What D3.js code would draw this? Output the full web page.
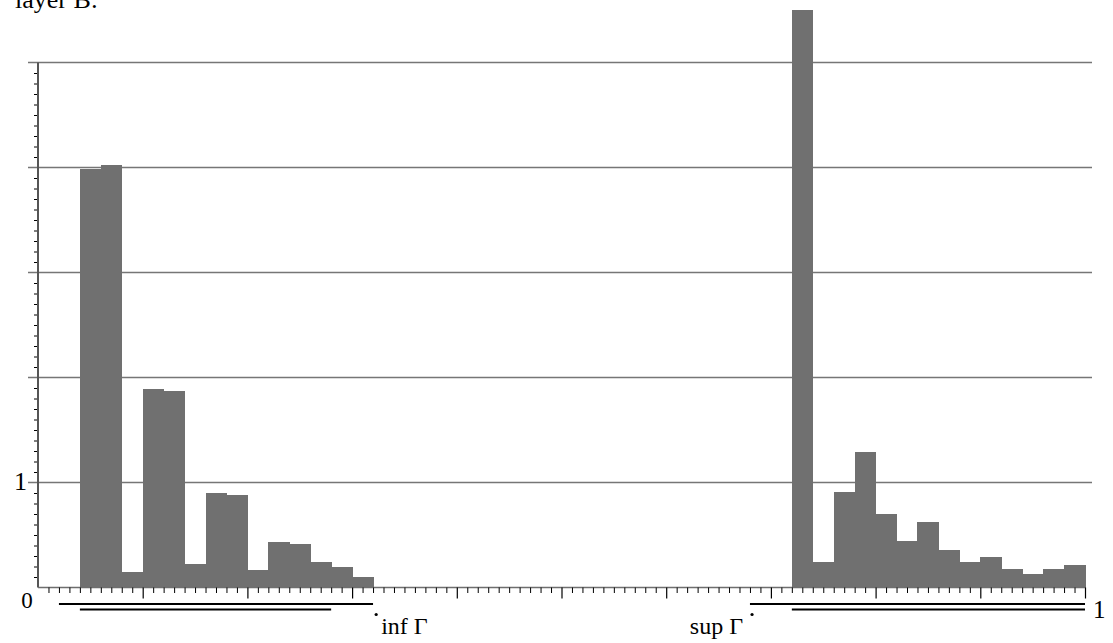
<!DOCTYPE html>
<html>
<head>
<meta charset="utf-8">
<script src="https://cdn.jsdelivr.net/npm/d3@7"></script>
<style>
  html, body { margin: 0; padding: 0; background: #fff; }
  svg { display: block; }
  text { font-family: "Liberation Serif", "DejaVu Serif", serif; fill: #000; }
</style>
</head>
<body>
<svg id="chart" width="1113" height="643"></svg>
<script>
// Histogram bins: left cluster and right cluster (bin start, height)
const binWidth = 0.02;
const leftBinStarts  = [0.04, 0.06, 0.08, 0.10, 0.12, 0.14, 0.16, 0.18, 0.20, 0.22, 0.24, 0.26, 0.28, 0.30];
const leftHeights    = [3.99, 4.02, 0.15, 1.89, 1.87, 0.22, 0.90, 0.88, 0.17, 0.43, 0.41, 0.24, 0.20, 0.10];
const rightBinStarts = [0.72, 0.74, 0.76, 0.78, 0.80, 0.82, 0.84, 0.86, 0.88, 0.90, 0.92, 0.94, 0.96, 0.98];
const rightHeights   = [5.50, 0.24, 0.91, 1.29, 0.70, 0.44, 0.62, 0.36, 0.24, 0.29, 0.18, 0.13, 0.18, 0.21];

// Gridline levels and the single labelled y value
const gridLevels = [1, 2, 3, 4, 5];
const yLabels = [1];

// Intervals drawn beneath the axis: [from, to, row]
const intervals = [
  [0.02, 0.32, 0], [0.04, 0.28, 1],
  [0.68, 1.00, 0], [0.72, 1.00, 1]
];
// Endpoint markers with their captions
const endpoints = [
  { x: 0.323, caption: "inf \u0393", side: "right" },
  { x: 0.682, caption: "sup \u0393", side: "left" }
];

const svg = d3.select("#chart");

const x = d3.scaleLinear().domain([0, 1]).range([38, 1085]);
const y = d3.scaleLinear().domain([0, 5]).range([587.5, 62.5]);

// Caption partly above the frame
svg.append("text")
  .attr("x", 98).attr("y", 8)
  .attr("text-anchor", "end")
  .attr("font-size", 26)
  .text("layer B:");

// Horizontal gridlines
svg.append("g").selectAll("line")
  .data(gridLevels)
  .join("line")
  .attr("x1", 28).attr("x2", 1092)
  .attr("y1", d => y(d)).attr("y2", d => y(d))
  .attr("stroke", "#767676").attr("stroke-width", 1.6);

// Bars (solid, no separators between neighbouring bins)
const bars = leftBinStarts.map((s, i) => ({ s, h: leftHeights[i] }))
  .concat(rightBinStarts.map((s, i) => ({ s, h: rightHeights[i] })));

svg.append("g")
  .attr("shape-rendering", "crispEdges")
  .selectAll("rect")
  .data(bars)
  .join("rect")
  .attr("x", d => x(d.s))
  .attr("width", d => x(d.s + binWidth) - x(d.s) + 0.5)
  .attr("y", d => y(d.h))
  .attr("height", d => y(0) - y(d.h))
  .attr("fill", "#707070");

// Y axis minor ticks (every 0.1, skipping the gridlines)
const yMinor = d3.range(1, 50).filter(i => i % 10 !== 0).map(i => i / 10);
svg.append("g")
  .attr("transform", `translate(${x(0)},0)`)
  .call(d3.axisLeft(y).tickValues(yMinor).tickSize(4).tickFormat(""))
  .call(g => g.select(".domain").remove())
  .call(g => g.selectAll(".tick line").attr("stroke", "#000").attr("stroke-width", 1));

// Y axis line
svg.append("line")
  .attr("x1", x(0)).attr("x2", x(0))
  .attr("y1", y(5)).attr("y2", y(0))
  .attr("stroke", "#555").attr("stroke-width", 2);

// X axis baseline
svg.append("line")
  .attr("x1", x(0)).attr("x2", x(1))
  .attr("y1", y(0)).attr("y2", y(0))
  .attr("stroke", "#6e6e6e").attr("stroke-width", 1.6);

// X axis ticks: minor every 0.01, major every 0.1
const xMinor = d3.range(1, 100).filter(i => i % 10 !== 0).map(i => i / 100);
const xMajor = d3.range(1, 11).map(i => i / 10);
svg.append("g")
  .attr("transform", `translate(0,${y(0)})`)
  .call(d3.axisBottom(x).tickValues(xMinor).tickSize(5.5).tickFormat(""))
  .call(g => g.select(".domain").remove())
  .call(g => g.selectAll(".tick line").attr("stroke", "#000").attr("stroke-width", 1));
svg.append("g")
  .attr("transform", `translate(0,${y(0)})`)
  .call(d3.axisBottom(x).tickValues(xMajor).tickSize(11).tickFormat(""))
  .call(g => g.select(".domain").remove())
  .call(g => g.selectAll(".tick line").attr("stroke", "#000").attr("stroke-width", 1.2));

// Axis labels
svg.append("text")
  .attr("x", 27).attr("y", 608)
  .attr("text-anchor", "middle").attr("font-size", 23)
  .text("0");
svg.append("text")
  .attr("x", 1093).attr("y", 618)
  .attr("font-size", 25)
  .text("1");
svg.append("g").selectAll("text")
  .data(yLabels)
  .join("text")
  .attr("x", 27).attr("y", d => y(d) + 7.5)
  .attr("text-anchor", "end").attr("font-size", 26)
  .text(d => d);

// Interval bars beneath the axis
const rowY = [604, 609.5];
svg.append("g").selectAll("line")
  .data(intervals)
  .join("line")
  .attr("x1", d => x(d[0])).attr("x2", d => x(d[1]))
  .attr("y1", d => rowY[d[2]]).attr("y2", d => rowY[d[2]])
  .attr("stroke", "#000").attr("stroke-width", 2);

// Endpoint dots and captions
const ep = svg.append("g").selectAll("g")
  .data(endpoints)
  .join("g");
ep.append("circle")
  .attr("cx", d => x(d.x)).attr("cy", 614.5)
  .attr("r", 1.6).attr("fill", "#000");
ep.append("text")
  .attr("x", d => d.side === "right" ? x(d.x) + 5 : x(d.x) - 9)
  .attr("y", 634)
  .attr("text-anchor", d => d.side === "right" ? "start" : "end")
  .attr("font-size", 24)
  .text(d => d.caption);
</script>
</body>
</html>
